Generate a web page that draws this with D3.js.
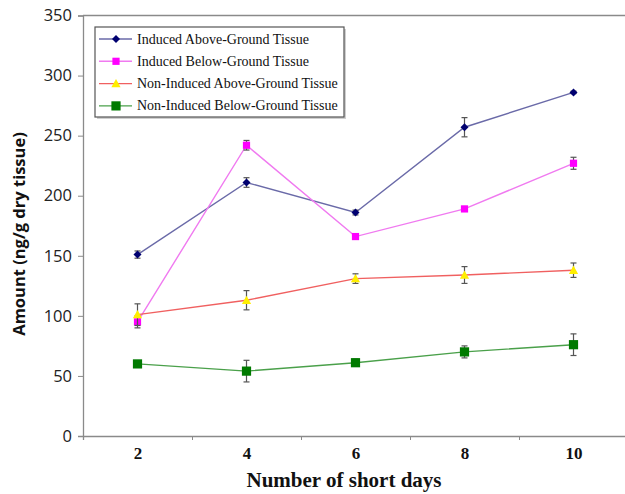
<!DOCTYPE html>
<html>
<head>
<meta charset="utf-8">
<script src="https://cdn.jsdelivr.net/npm/d3@7"></script>
<style>
  html, body { margin: 0; padding: 0; background: #fff; }
  svg { display: block; }
</style>
</head>
<body>
<svg id="chart" width="625" height="494"></svg>
<script>
// ---- data ----
const days = [2, 4, 6, 8, 10];
const seriesNames = [
  "Induced Above-Ground Tissue",
  "Induced Below-Ground Tissue",
  "Non-Induced Above-Ground Tissue",
  "Non-Induced Below-Ground Tissue"
];
const inducedAbove = [151, 211, 186, 257, 286];
const inducedAboveErr = [3, 4, 2, 8, 1];
const inducedBelow = [95, 242, 166, 189, 227];
const inducedBelowErr = [5, 4, 1, 2, 5];
const nonInducedAbove = [101, 113, 131, 134, 138];
const nonInducedAboveErr = [9, 8, 4, 7, 6];
const nonInducedBelow = [60, 54, 61, 70, 76];
const nonInducedBelowErr = [1, 9, 3, 5, 9];
const yTicks = [0, 50, 100, 150, 200, 250, 300, 350];
const xTickBounds = [1, 3, 5, 7, 9, 11];

const styles = [
  { line: "#6a6aa8", fill: "#000070", shape: "diamond", size: 4 },
  { line: "#f07af0", fill: "#ff00ff", shape: "square", size: 3.6 },
  { line: "#f06060", fill: "#ffee00", shape: "triangle", size: 4.6 },
  { line: "#4aa04a", fill: "#007a00", shape: "square", size: 4.6 }
];
const values = [inducedAbove, inducedBelow, nonInducedAbove, nonInducedBelow];
const errors = [inducedAboveErr, inducedBelowErr, nonInducedAboveErr, nonInducedBelowErr];

const svg = d3.select("#chart");
const x = d3.scaleLinear().domain([1, 11]).range([83, 628]);
const y = d3.scaleLinear().domain([0, 350]).range([436, 15.5]);
const axisColor = "#8a8a8a";

// top frame line
svg.append("line")
  .attr("x1", x(1)).attr("x2", x(11))
  .attr("y1", y(350)).attr("y2", y(350))
  .attr("stroke", axisColor).attr("stroke-width", 1.3);

// y axis
const yAxis = svg.append("g").attr("transform", `translate(${x(1)},0)`)
  .call(d3.axisLeft(y).tickValues(yTicks).tickSize(5).tickPadding(6).tickFormat(d3.format("d")));
yAxis.select(".domain").attr("stroke", axisColor).attr("stroke-width", 1.3);
yAxis.selectAll(".tick line").attr("stroke", axisColor);
yAxis.selectAll("text").attr("fill", "#222").style("font-family", "'Open Sans', 'DejaVu Sans', sans-serif").style("font-size", "16.5px");

// x axis ticks (boundaries)
const xAxis = svg.append("g").attr("transform", `translate(0,${y(0)})`)
  .call(d3.axisBottom(x).tickValues(xTickBounds).tickSize(4).tickFormat(""));
xAxis.select(".domain").attr("stroke", axisColor).attr("stroke-width", 1.3);
xAxis.selectAll(".tick line").attr("stroke", axisColor);
// x labels
const xLab = svg.append("g").attr("transform", `translate(0,${y(0)})`)
  .call(d3.axisBottom(x).tickValues(days).tickSize(0).tickPadding(11).tickFormat(d3.format("d")));
xLab.select(".domain").remove();
xLab.selectAll("text").attr("fill", "#111").style("font-family", "'Liberation Serif', serif").style("font-weight", "bold").style("font-size", "17px");

// axis titles
svg.append("text")
  .attr("transform", `translate(25,234) rotate(-90)`)
  .attr("text-anchor", "middle")
  .style("font-family", "'Open Sans', 'DejaVu Sans', sans-serif")
  .style("font-weight", "bold").style("font-size", "16.5px").attr("fill", "#111")
  .text("Amount (ng/g dry tissue)");
svg.append("text")
  .attr("x", 344).attr("y", 487)
  .attr("text-anchor", "middle")
  .style("font-family", "'Liberation Serif', serif")
  .style("font-weight", "bold").style("font-size", "21px").attr("fill", "#111")
  .text("Number of short days");

function marker(g, shape, size, fill) {
  if (shape === "diamond") {
    g.append("path").attr("d", `M0,${-size}L${size},0L0,${size}L${-size},0Z`).attr("fill", fill);
  } else if (shape === "square") {
    g.append("rect").attr("x", -size).attr("y", -size).attr("width", size * 2).attr("height", size * 2).attr("fill", fill);
  } else {
    g.append("path").attr("d", `M0,${-size}L${size},${size * 0.8}L${-size},${size * 0.8}Z`).attr("fill", fill);
  }
}

const line = d3.line().x((d, i) => x(days[i])).y(d => y(d));
values.forEach((vals, s) => {
  const st = styles[s];
  const g = svg.append("g");
  g.append("path").datum(vals).attr("d", line).attr("fill", "none")
    .attr("stroke", st.line).attr("stroke-width", 1.4);
  vals.forEach((v, i) => {
    const cx = x(days[i]);
    const e = errors[s][i];
    const eg = g.append("g").attr("stroke", "#555").attr("stroke-width", 1.2);
    eg.append("line").attr("x1", cx).attr("x2", cx).attr("y1", y(v - e)).attr("y2", y(v + e));
    eg.append("line").attr("x1", cx - 3).attr("x2", cx + 3).attr("y1", y(v - e)).attr("y2", y(v - e));
    eg.append("line").attr("x1", cx - 3).attr("x2", cx + 3).attr("y1", y(v + e)).attr("y2", y(v + e));
    const mg = g.append("g").attr("transform", `translate(${cx},${y(v)})`);
    marker(mg, st.shape, st.size, st.fill);
  });
});

// legend
const lg = svg.append("g");
lg.append("rect").attr("x", 97).attr("y", 29).attr("width", 249).attr("height", 90).attr("fill", "#cfcfcf");
lg.append("rect").attr("x", 95).attr("y", 27).attr("width", 249).attr("height", 90)
  .attr("fill", "#fff").attr("stroke", "#555").attr("stroke-width", 1.2);
seriesNames.forEach((name, s) => {
  const st = styles[s];
  const ly = 39 + s * 22.3;
  lg.append("line").attr("x1", 99).attr("x2", 132).attr("y1", ly).attr("y2", ly)
    .attr("stroke", st.line).attr("stroke-width", 1.4);
  const mg = lg.append("g").attr("transform", `translate(116,${ly})`);
  marker(mg, st.shape, st.size, st.fill);
  lg.append("text").attr("x", 137).attr("y", ly + 4.5)
    .style("font-family", "'Liberation Serif', serif").style("font-size", "14px").attr("fill", "#111")
    .text(name);
});
</script>
</body>
</html>
